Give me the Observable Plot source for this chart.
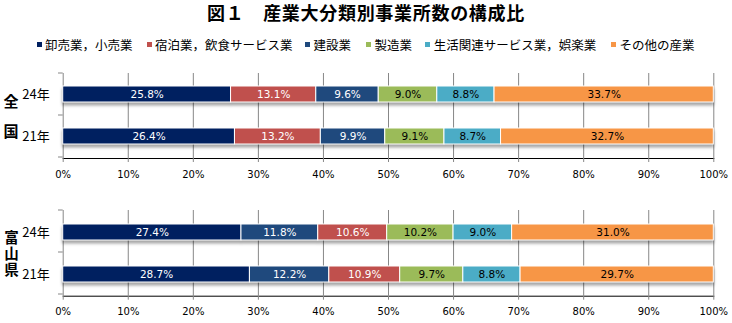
<!DOCTYPE html>
<html><head><meta charset="utf-8">
<script src="https://cdn.jsdelivr.net/npm/d3@7"></script>
<script src="https://cdn.jsdelivr.net/npm/@observablehq/plot@0.6"></script>
<style>
body{margin:0;background:#fff;}
#c{position:relative;width:732px;height:323px;overflow:hidden;background:#fff;font-family:"Noto Sans CJK JP",sans-serif;color:#000;}
.abs{position:absolute;white-space:nowrap;}
.panel{position:absolute;left:0;}
</style></head><body><div id="c"></div>
<script>
// ---- data ----
const categories = ["卸売業，小売業","宿泊業，飲食サービス業","建設業","製造業","生活関連サービス業，娯楽業","その他の産業"];
const colors = ["#002060","#C0504D","#1F497D","#9BBB59","#4BACC6","#F79646"];
const darkCategories = ["卸売業，小売業","宿泊業，飲食サービス業","建設業"];
const years = ["24年","21年"];
const zenkoku24 = [25.8, 13.1, 9.6, 9.0, 8.8, 33.7];
const zenkoku21 = [26.4, 13.2, 9.9, 9.1, 8.7, 32.7];
const toyama24 = [27.4, 10.6, 11.8, 10.2, 9.0, 31.0];
const toyama21 = [28.7, 10.9, 12.2, 9.7, 8.8, 29.7];
const zenkokuOrder = ["卸売業，小売業","宿泊業，飲食サービス業","建設業","製造業","生活関連サービス業，娯楽業","その他の産業"];
const toyamaOrder = ["卸売業，小売業","建設業","宿泊業，飲食サービス業","製造業","生活関連サービス業，娯楽業","その他の産業"];
const xTicks = [0,10,20,30,40,50,60,70,80,90,100];

const colorOf = Object.fromEntries(categories.map((c,i)=>[c,colors[i]]));
function rows(v24, v21, order){
  const out = [];
  for (const [yr, vals] of [[years[0], v24],[years[1], v21]]) {
    for (const cat of order) out.push({year: yr, cat, value: vals[categories.indexOf(cat)]});
  }
  return out;
}

const root = document.getElementById("c");

// title
const title = document.createElement("div");
title.className = "abs";
title.style.cssText = "left:0;width:732px;text-align:center;top:0px;font-size:18px;font-weight:bold;letter-spacing:0.7px;line-height:24px;";
title.textContent = "図１　産業大分類別事業所数の構成比";
root.appendChild(title);

// legend
const legendX = [36.5, 146.5, 305, 366, 425.3, 611];
categories.forEach((c,i)=>{
  const sq = document.createElement("div");
  sq.className = "abs";
  sq.style.cssText = `left:${legendX[i]}px;top:42px;width:5px;height:5px;background:${colors[i]};`;
  root.appendChild(sq);
  const t = document.createElement("div");
  t.className = "abs";
  t.style.cssText = `left:${legendX[i]+8.5}px;top:36px;font-size:12.5px;line-height:18px;`;
  t.textContent = c;
  root.appendChild(t);
});

function panel(data, top, height, mTop, mBottom){
  const p = Plot.plot({
    width: 732, height,
    marginLeft: 62.7, marginRight: 18.7, marginTop: mTop, marginBottom: mBottom,
    style: {fontFamily: "DejaVu Sans, sans-serif", fontSize: "10px", color: "#000", background: "transparent", overflow: "visible"},
    x: {domain: [0,100], ticks: xTicks, tickFormat: d => d + "%", tickSize: 4, tickPadding: 8, label: null, line: true},
    y: {domain: years, paddingInner: 0.61, paddingOuter: 0.305, tickSize: 0, tickPadding: 13.4, label: null},
    color: {type: "identity"},
    marks: [
      Plot.ruleX(xTicks, {stroke: "#878787", strokeWidth: 1}),
      Plot.barX(data, Plot.stackX({x: "value", y: "year", fill: d => colorOf[d.cat], stroke: "white", strokeWidth: 1, order: null})),
      Plot.text(data, Plot.stackX({x: "value", y: "year", text: d => d.value.toFixed(1) + "%", fill: d => darkCategories.includes(d.cat) ? "white" : "black", fontSize: 10.5, order: null}))
    ]
  });
  p.classList.add("panel");
  p.style.top = top + "px";
  root.appendChild(p);
  const svg = d3.select(p);
  svg.selectAll('[aria-label="y-axis tick label"] text').style("font-family", '"Noto Sans CJK JP", sans-serif').style("font-size", "13px");
  svg.selectAll('[aria-label="x-axis tick"], [aria-label="x-axis line"], [aria-label="x-axis"] path').attr("stroke", "#878787");
  svg.select('[aria-label="bar"]').style("filter", "drop-shadow(0px 3px 1.5px rgba(0,0,0,0.35))");
  // category boundary ticks on the left axis
  const ys = p.scale("y");
  const r0 = Math.min(...ys.range);
  const n = ys.domain.length;
  const g = svg.append("g").attr("stroke", "#878787");
  for (let i = 0; i <= n; i++) {
    const yy = r0 + i * ys.step;
    g.append("line").attr("x1", 58).attr("x2", 62.7).attr("y1", yy).attr("y2", yy);
  }
  return p;
}

panel(rows(zenkoku24, zenkoku21, zenkokuOrder), 60, 140, 13, 42);
panel(rows(toyama24, toyama21, toyamaOrder), 200, 123, 10, 27.3);

// panel labels (vertical text)
function vlabel(text, left, top, size, spacing){
  const t = document.createElement("div");
  t.className = "abs";
  t.style.cssText = `left:${left}px;top:${top}px;font-size:${size}px;font-weight:bold;line-height:${size + 2}px;writing-mode:vertical-rl;text-orientation:upright;letter-spacing:${spacing - size}px;`;
  t.textContent = text;
  root.appendChild(t);
}
vlabel("全国", 2.5, 94.2, 15, 29.5);
vlabel("富山県", 2.5, 229.8, 14.5, 16);
</script></body></html>
